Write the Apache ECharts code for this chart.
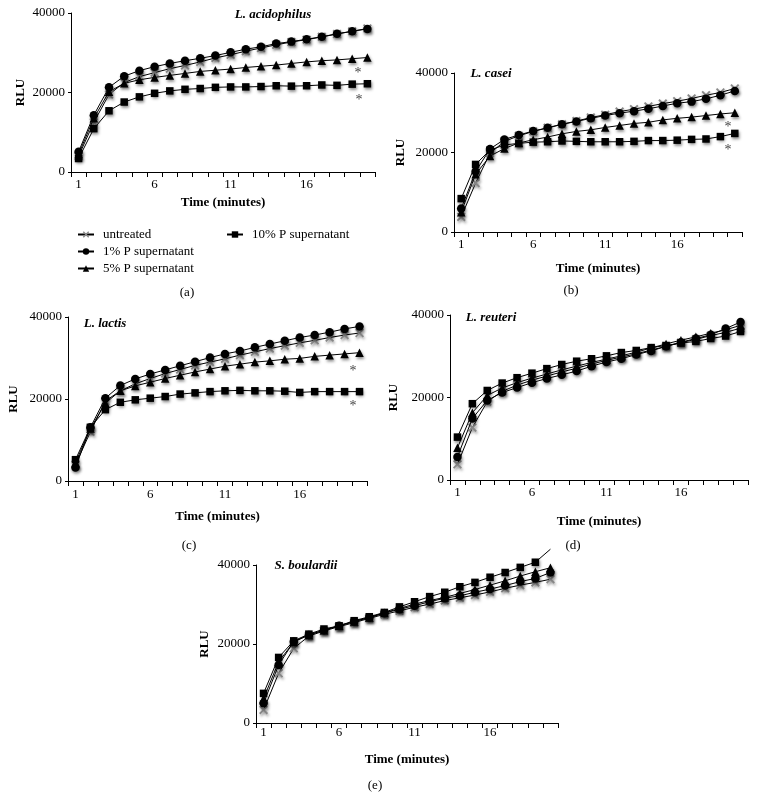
<!DOCTYPE html>
<html>
<head>
<meta charset="utf-8">
<script src="https://cdn.jsdelivr.net/npm/echarts@6/dist/echarts.min.js"></script>
<style>
html,body{margin:0;padding:0;background:#fff;}
#chart{width:758px;height:808px;}
</style>
</head>
<body>
<div id="chart"></div>
<script>
// ---------- data ----------
const minutes = ['1','2','3','4','5','6','7','8','9','10','11','12','13','14','15','16','17','18','19','20'];
const seriesNames = ['untreated', '1% P supernatant', '5% P supernatant', '10% P supernatant'];
const yTicks = [0, 20000, 40000];

const acidUntreated = [4000,12500,19500,22500,24000,25000,26000,26800,27700,28700,29500,30400,31200,32000,32700,33300,34000,34700,35400,36100];
const acid1  = [5100,14300,21300,24100,25500,26500,27300,28000,28600,29300,30100,30900,31500,32300,32800,33400,34000,34800,35400,36000];
const acid5  = [4500,13500,20200,22300,23200,23800,24300,24800,25300,25600,25900,26300,26600,26900,27300,27700,28000,28200,28500,28800];
const acid10 = [3400,10900,15400,17600,18900,19800,20400,20800,21000,21300,21400,21400,21500,21700,21600,21700,21900,21800,22100,22200];

const caseiUntreated = [3800,12300,19800,22800,24200,25300,26200,27100,27900,28800,29500,30300,30900,31600,32300,32900,33600,34400,35100,36100];
const casei1  = [5900,15200,20900,23300,24400,25400,26200,27100,27800,28600,29300,29900,30400,31000,31700,32400,32800,33500,34400,35500];
const casei5  = [5000,14500,19100,21000,22400,23200,23900,24700,25300,25700,26300,26800,27300,27600,28200,28600,28900,29300,29700,30000];
const casei10 = [8400,17000,20600,21900,22300,22600,22700,22900,22800,22700,22700,22700,22800,23000,23000,23100,23300,23400,24000,24800];

const lactisUntreated = [4000,12000,19500,22000,23700,25000,26200,27200,28200,29000,29800,30700,31500,32300,33000,33700,34300,35000,35600,36100];
const lactis1  = [3300,13100,20200,23300,24900,26100,27100,28100,29100,30100,31000,31700,32600,33400,34200,35000,35600,36300,37100,37700];
const lactis5  = [4500,12800,19000,22000,23200,24100,25000,25800,26600,27300,28000,28500,29000,29300,29700,29900,30400,30700,31000,31300];
const lactis10 = [5200,13100,17400,19200,19800,20200,20600,21200,21500,21800,22000,22100,22000,22000,21900,21600,21800,21800,21800,21800];

const reuteriUntreated = [3800,12700,19000,21500,23000,24200,25200,26200,27100,28100,29000,29800,30600,31500,32400,33300,34100,35000,35800,36800];
const reuteri1  = [5600,14900,19300,21200,22400,23600,24600,25500,26400,27600,28600,29400,30400,31300,32400,33400,34300,35200,36700,38300];
const reuteri5  = [7800,16300,20500,22300,23600,24700,25700,26700,27600,28500,29300,30100,31000,32000,33000,33900,34700,35600,36400,37500];
const reuteri10 = [10400,18500,21700,23500,24800,25900,27000,28000,28800,29400,30100,30900,31400,32100,32600,33200,33600,34300,34900,36000];

const boulUntreated = [3300,12600,18900,22000,23300,24400,25400,26500,27500,28400,29300,30100,31000,31700,32400,33200,34100,34900,35600,36400];
const boul1  = [5000,14700,20600,22300,23500,24600,25700,26700,27800,28800,29700,30700,31600,32200,33100,33900,34800,35800,36600,38100];
const boul5  = [6200,15500,20500,22300,23500,24600,25700,26700,27900,29000,30100,31000,31800,32800,33800,34900,36000,37200,38300,39300];
const boul10 = [7500,16600,20800,22500,23800,24600,25900,26900,28000,29400,30700,32000,33100,34500,35600,36900,38100,39400,40700,44000];

const panelTitles = ['L. acidophilus', 'L. casei', 'L. lactis', 'L. reuteri', 'S. boulardii'];
const panelLetters = ['(a)', '(b)', '(c)', '(d)', '(e)'];

// ---------- layout ----------
const FONT = '"Liberation Serif", "DejaVu Serif", serif';
const grids = [
  {left: 71,  top: 13,  width: 304, height: 159},
  {left: 454, top: 73,  width: 288, height: 159},
  {left: 68,  top: 317, width: 299, height: 164},
  {left: 450, top: 315, width: 298, height: 165},
  {left: 256, top: 565, width: 302, height: 158}
];
const xNameGap = [24, 30, 29, 35, 30];
const xLabelMargin = [6, 6, 7, 6, 3];
const yNameGap = [44, 47, 48, 50, 45];
const panelData = [
  [acidUntreated, acid1, acid5, acid10],
  [caseiUntreated, casei1, casei5, casei10],
  [lactisUntreated, lactis1, lactis5, lactis10],
  [reuteriUntreated, reuteri1, reuteri5, reuteri10],
  [boulUntreated, boul1, boul5, boul10]
];
const titlePos = [[273, 15], [491, 74], [105, 324], [491, 318], [306, 566]];
const letterPos = [[187, 293], [571, 291], [189, 546], [573, 546], [375, 786]];
const asterisks = [[358, 73], [359, 100], [728, 127], [728, 150], [353, 371], [353, 406]];

const X_PATH = 'path://M0,1.5 L1.5,0 L5,3.5 L8.5,0 L10,1.5 L6.5,5 L10,8.5 L8.5,10 L5,6.5 L1.5,10 L0,8.5 L3.5,5 Z';
const styles = [
  {symbol: X_PATH, size: 9, color: '#888888'},
  {symbol: 'circle', size: 8.5, color: '#000'},
  {symbol: 'triangle', size: 8.5, color: '#000'},
  {symbol: 'rect', size: 7.5, color: '#000'}
];
const shadow = {shadowColor: 'rgba(0,0,0,0.45)', shadowBlur: 3, shadowOffsetX: 1, shadowOffsetY: 2};
const Y_MAX = yTicks[yTicks.length - 1];

const xAxes = [], yAxes = [], series = [], graphics = [];
grids.forEach((g, i) => {
  xAxes.push({
    gridIndex: i, type: 'category', data: minutes, boundaryGap: true,
    name: 'Time (minutes)', nameLocation: 'middle', nameGap: xNameGap[i],
    nameTextStyle: {fontFamily: FONT, fontWeight: 'bold', fontSize: 13, color: '#000'},
    axisLine: {lineStyle: {color: '#000', width: 1}},
    axisTick: {show: true, interval: 0, length: 5, lineStyle: {color: '#000'}},
    axisLabel: {interval: 4, margin: xLabelMargin[i], fontFamily: FONT, fontSize: 13, color: '#000'},
    splitLine: {show: false}
  });
  yAxes.push({
    gridIndex: i, type: 'value', min: yTicks[0], max: Y_MAX, interval: yTicks[1] - yTicks[0],
    name: 'RLU', nameLocation: 'middle', nameGap: yNameGap[i], nameRotate: 90,
    nameTextStyle: {fontFamily: FONT, fontWeight: 'bold', fontSize: 13, color: '#000'},
    axisLine: {show: true, lineStyle: {color: '#000', width: 1}},
    axisTick: {show: true, length: 3, lineStyle: {color: '#000'}},
    axisLabel: {margin: 6, fontFamily: FONT, fontSize: 13, color: '#000', formatter: v => String(v)},
    splitLine: {show: false}
  });
  panelData[i].forEach((arr, k) => {
    const st = styles[k];
    // points lying clearly beyond the top of the value axis are drawn without a marker
    const data = arr.map(v => (v > Y_MAX + 1500 ? {value: v, symbol: 'none'} : v));
    series.push({
      name: seriesNames[k], type: 'line', xAxisIndex: i, yAxisIndex: i,
      data: data, clip: false, animation: false,
      symbol: st.symbol, symbolSize: st.size, showSymbol: true,
      lineStyle: {color: '#000', width: 1},
      itemStyle: Object.assign({color: st.color, borderWidth: 0}, shadow),
      z: 2 + k
    });
  });
  graphics.push({
    type: 'text', x: titlePos[i][0], y: titlePos[i][1],
    style: {text: panelTitles[i], font: 'italic bold 13px ' + FONT, fill: '#000', align: 'center', verticalAlign: 'middle'}
  });
  graphics.push({
    type: 'text', x: letterPos[i][0], y: letterPos[i][1],
    style: {text: panelLetters[i], font: '13px ' + FONT, fill: '#000', align: 'center', verticalAlign: 'middle'}
  });
});
asterisks.forEach(p => {
  graphics.push({
    type: 'text', x: p[0], y: p[1],
    style: {text: '*', font: '14px ' + FONT, fill: '#444', align: 'center', verticalAlign: 'middle'}
  });
});

const legendCommon = {
  orient: 'vertical', itemGap: 4, itemWidth: 16, itemHeight: 8,
  textStyle: {fontFamily: FONT, fontSize: 13, color: '#000', padding: [0, 0, 0, 4]},
  selectedMode: false
};

const chart = echarts.init(document.getElementById('chart'), null, {renderer: 'canvas'});
chart.setOption({
  backgroundColor: '#fff',
  animation: false,
  grid: grids.map(g => Object.assign({containLabel: false}, g)),
  xAxis: xAxes,
  yAxis: yAxes,
  legend: [
    Object.assign({}, legendCommon, {left: 72, top: 223, data: seriesNames.slice(0, 3)}),
    Object.assign({}, legendCommon, {left: 221, top: 223, data: seriesNames.slice(3)})
  ],
  series: series,
  graphic: graphics
});
</script>
</body>
</html>
